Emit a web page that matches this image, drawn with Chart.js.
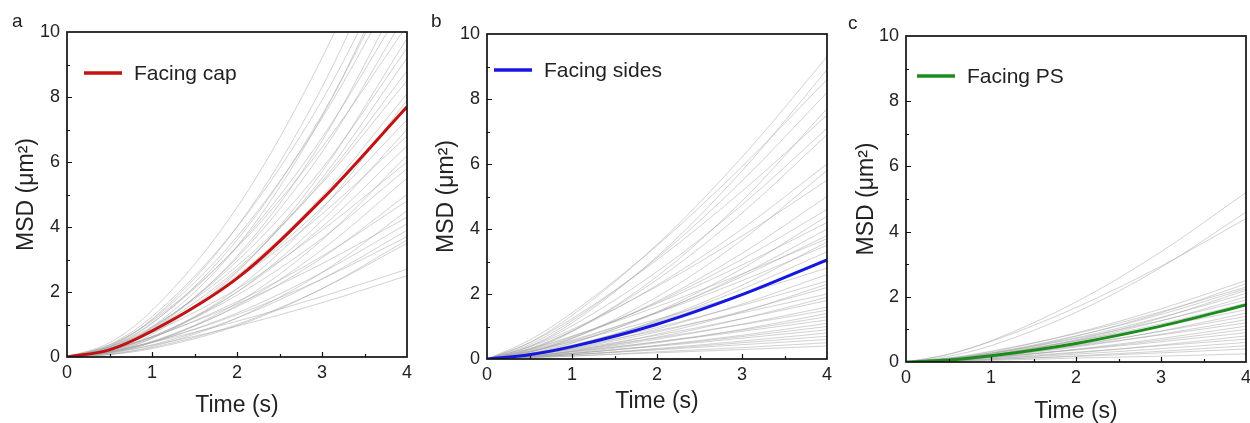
<!DOCTYPE html>
<html>
<head>
<meta charset="utf-8">
<script src="https://cdn.jsdelivr.net/npm/chart.js@4.4.1/dist/chart.umd.min.js"></script>
<style>
html, body { margin: 0; padding: 0; background: #fff; overflow: hidden; }
#wrap { position: relative; width: 1250px; height: 423px; overflow: hidden; }
.panel { position: absolute; top: 0; }
.tag { position: absolute; font: 19px "Liberation Sans", Arial, sans-serif; line-height: 19px; color: #222; }
</style>
</head>
<body>
<div id="wrap">
	<canvas id="panelA" class="panel" width="420" height="423" style="left:0px"></canvas>
	<canvas id="panelB" class="panel" width="420" height="423" style="left:420px"></canvas>
	<canvas id="panelC" class="panel" width="420" height="423" style="left:840px"></canvas>
	<div class="tag" style="left:12px;top:11px">a</div>
	<div class="tag" style="left:431px;top:11px">b</div>
	<div class="tag" style="left:848px;top:13px">c</div>
</div>
<script>
// sample times (s) shared by every curve
const time = [0, 0.5, 1, 2, 3, 4];

// a - facing cap
const capMean = [0, 0.22, 0.8, 2.42, 4.85, 7.7];
const capRuns = [
	[0, 0.33, 1.16, 4.0, 8.3, 14],
	[0, 0.38, 1.24, 4.0, 7.9, 13],
	[0, 0.30, 1.03, 3.6, 7.45, 12.5],
	[0, 0.35, 1.14, 3.7, 7.35, 12],
	[0, 0.22, 0.83, 3.1, 6.65, 11.5],
	[0, 0.32, 1.05, 3.4, 6.75, 11],
	[0, 0.25, 0.87, 3.05, 6.3, 10.6],
	[0, 0.37, 1.11, 3.37, 6.45, 10.2],
	[0, 0.19, 0.7, 2.6, 5.7, 9.8],
	[0, 0.28, 0.9, 2.95, 5.8, 9.5],
	[0, 0.22, 0.76, 2.64, 5.5, 9.2],
	[0, 0.26, 0.84, 2.7, 5.4, 8.8],
	[0, 0.31, 0.93, 2.8, 5.35, 8.5],
	[0, 0.23, 0.77, 2.5, 4.95, 8.1],
	[0, 0.15, 0.57, 2.1, 4.55, 7.9],
	[0, 0.26, 0.8, 2.4, 4.6, 7.3],
	[0, 0.17, 0.58, 2.0, 4.2, 7.0],
	[0, 0.3, 0.85, 2.4, 4.4, 6.8],
	[0, 0.19, 0.62, 2.0, 4.0, 6.5],
	[0, 0.12, 0.45, 1.66, 3.6, 6.2],
	[0, 0.26, 0.75, 2.1, 3.9, 6.0],
	[0, 0.21, 0.63, 1.9, 3.65, 5.8],
	[0, 0.13, 0.45, 1.58, 3.3, 5.5],
	[0, 0.15, 0.48, 1.55, 3.05, 5.0],
	[0, 0.21, 0.6, 1.7, 3.1, 4.8],
	[0, 0.09, 0.32, 1.2, 2.6, 4.5],
	[0, 0.23, 0.62, 1.63, 2.87, 4.3],
	[0, 0.15, 0.45, 1.35, 2.6, 4.1],
	[0, 0.11, 0.37, 1.2, 2.4, 3.9],
	[0, 0.16, 0.46, 1.3, 2.4, 3.7],
	[0, 0.07, 0.26, 0.96, 2.1, 3.6],
	[0, 0.08, 0.29, 1.0, 2.1, 3.5],
	[0, 0.18, 0.45, 1.1, 1.86, 2.7],
	[0, 0.14, 0.36, 0.95, 1.67, 2.5],
	[0, 0.44, 1.43, 4.6, 9.2, 15],
	[0, 0.24, 0.92, 3.4, 7.4, 12.8]
];

// b - facing sides
const sidesMean = [0, 0.13, 0.38, 1.07, 1.98, 3.05];
const sidesRuns = [
	[0, 0.5, 1.34, 3.52, 6.21, 9.3],
	[0, 0.39, 1.11, 3.15, 5.79, 8.9],
	[0, 0.58, 1.42, 3.49, 5.92, 8.6],
	[0, 0.44, 1.18, 3.11, 5.48, 8.2],
	[0, 0.28, 0.84, 2.54, 4.86, 7.7],
	[0, 0.5, 1.24, 3.05, 5.16, 7.5],
	[0, 0.38, 1.02, 2.69, 4.74, 7.1],
	[0, 0.3, 0.86, 2.44, 4.49, 6.9],
	[0, 0.32, 0.86, 2.27, 4.0, 6.0],
	[0, 0.21, 0.63, 1.91, 3.66, 5.8],
	[0, 0.37, 0.91, 2.23, 3.78, 5.5],
	[0, 0.22, 0.63, 1.77, 3.25, 5.0],
	[0, 0.25, 0.66, 1.74, 3.07, 4.6],
	[0, 0.16, 0.48, 1.45, 2.78, 4.4],
	[0, 0.28, 0.69, 1.71, 2.89, 4.2],
	[0, 0.18, 0.5, 1.42, 2.6, 4.0],
	[0, 0.21, 0.55, 1.44, 2.54, 3.8],
	[0, 0.31, 0.7, 1.61, 2.62, 3.7],
	[0, 0.13, 0.39, 1.19, 2.27, 3.6],
	[0, 0.23, 0.58, 1.42, 2.41, 3.5],
	[0, 0.15, 0.41, 1.17, 2.15, 3.3],
	[0, 0.16, 0.43, 1.14, 2.0, 3.0],
	[0, 0.23, 0.53, 1.22, 1.98, 2.8],
	[0, 0.11, 0.33, 0.92, 1.69, 2.6],
	[0, 0.16, 0.4, 0.97, 1.65, 2.4],
	[0, 0.08, 0.25, 0.76, 1.45, 2.3],
	[0, 0.12, 0.32, 0.83, 1.47, 2.2],
	[0, 0.17, 0.38, 0.87, 1.42, 2.0],
	[0, 0.08, 0.24, 0.67, 1.24, 1.9],
	[0, 0.12, 0.3, 0.73, 1.24, 1.8],
	[0, 0.09, 0.23, 0.61, 1.07, 1.6],
	[0, 0.12, 0.28, 0.65, 1.06, 1.5],
	[0, 0.06, 0.18, 0.5, 0.91, 1.4],
	[0, 0.09, 0.21, 0.53, 0.89, 1.3],
	[0, 0.1, 0.23, 0.52, 0.85, 1.2],
	[0, 0.06, 0.16, 0.42, 0.73, 1.1],
	[0, 0.07, 0.17, 0.41, 0.69, 1.0],
	[0, 0.07, 0.17, 0.39, 0.64, 0.9],
	[0, 0.05, 0.13, 0.32, 0.55, 0.8],
	[0, 0.06, 0.13, 0.3, 0.5, 0.7],
	[0, 0.06, 0.13, 0.28, 0.44, 0.6],
	[0, 0.04, 0.09, 0.22, 0.35, 0.5],
	[0, 0.04, 0.09, 0.19, 0.29, 0.4]
];

// c - facing PS
const psMean = [0, 0.06, 0.19, 0.57, 1.1, 1.75];
const psRuns = [
	[0, 0.23, 0.65, 1.84, 3.38, 5.2],
	[0, 0.17, 0.5, 1.52, 2.9, 4.6],
	[0, 0.24, 0.63, 1.67, 2.94, 4.4],
	[0, 0.11, 0.31, 0.89, 1.63, 2.5],
	[0, 0.09, 0.26, 0.79, 1.51, 2.4],
	[0, 0.12, 0.33, 0.87, 1.54, 2.3],
	[0, 0.1, 0.28, 0.8, 1.46, 2.25],
	[0, 0.06, 0.21, 0.68, 1.35, 2.2],
	[0, 0.09, 0.26, 0.74, 1.37, 2.1],
	[0, 0.07, 0.22, 0.66, 1.26, 2.0],
	[0, 0.1, 0.27, 0.72, 1.27, 1.9],
	[0, 0.08, 0.23, 0.64, 1.17, 1.8],
	[0, 0.11, 0.26, 0.65, 1.1, 1.6],
	[0, 0.05, 0.16, 0.5, 0.95, 1.5],
	[0, 0.08, 0.2, 0.53, 0.94, 1.4],
	[0, 0.06, 0.16, 0.46, 0.85, 1.3],
	[0, 0.08, 0.2, 0.49, 0.83, 1.2],
	[0, 0.05, 0.14, 0.39, 0.72, 1.1],
	[0, 0.05, 0.14, 0.38, 0.67, 1.0],
	[0, 0.06, 0.15, 0.37, 0.62, 0.9],
	[0, 0.04, 0.1, 0.28, 0.52, 0.8],
	[0, 0.06, 0.13, 0.3, 0.5, 0.7],
	[0, 0.04, 0.1, 0.24, 0.41, 0.6],
	[0, 0.03, 0.07, 0.19, 0.33, 0.5],
	[0, 0.03, 0.08, 0.17, 0.28, 0.4],
	[0, 0.03, 0.05, 0.12, 0.18, 0.25]
];

const FONT = '"Liberation Sans", Arial, sans-serif';
const INK = '#222';
Chart.defaults.font.family = FONT;

function toPoints(values) {
	return time.map((t, i) => ({x: t, y: values[i]}));
}

// frame round the plot, ticks pointing inwards
const frame = {
	id: 'frame',
	afterDatasetsDraw(chart) {
		const {ctx, chartArea: a, scales: {x, y}} = chart;
		ctx.save();
		ctx.strokeStyle = '#111';
		ctx.lineWidth = 1.2;
		ctx.beginPath();
		for (let v = 0.5; v < 4; v += 0.5) {
			const px = Math.round(x.getPixelForValue(v)) + 0.5;
			const len = v % 1 ? 3 : 5;
			ctx.moveTo(px, a.bottom);
			ctx.lineTo(px, a.bottom - len);
		}
		for (let v = 1; v < 10; v++) {
			const py = Math.round(y.getPixelForValue(v)) + 0.5;
			const len = v % 2 ? 3 : 5;
			ctx.moveTo(a.left, py);
			ctx.lineTo(a.left + len, py);
		}
		ctx.stroke();
		ctx.lineWidth = 1.7;
		ctx.strokeRect(a.left, a.top, a.right - a.left, a.bottom - a.top);
		ctx.restore();
	}
};

// legend sitting inside the plot, only for the mean curve
const innerLegend = {
	id: 'innerLegend',
	afterDraw(chart, args, opts) {
		const {ctx, chartArea: a} = chart;
		const ds = chart.data.datasets[0];
		const x0 = a.left + opts.dx;
		const y0 = a.top + opts.dy;
		ctx.save();
		ctx.strokeStyle = ds.borderColor;
		ctx.lineWidth = 3.5;
		ctx.beginPath();
		ctx.moveTo(x0, y0);
		ctx.lineTo(x0 + 38, y0);
		ctx.stroke();
		ctx.fillStyle = INK;
		ctx.font = '21px ' + FONT;
		ctx.textBaseline = 'middle';
		ctx.fillText(ds.label, x0 + 50, y0 + 1);
		ctx.restore();
	}
};

function makePanel(id, mean, runs, color, label, box) {
	const datasets = [{
		label: label,
		data: toPoints(mean),
		borderColor: color,
		borderWidth: 3,
		order: 0
	}];
	runs.forEach(r => datasets.push({
		label: '',
		data: toPoints(r),
		borderColor: 'rgba(165, 165, 165, 0.5)',
		borderWidth: 1,
		order: 1
	}));

	return new Chart(document.getElementById(id), {
		type: 'line',
		data: {datasets: datasets},
		plugins: [frame, innerLegend],
		options: {
			responsive: false,
			animation: false,
			devicePixelRatio: 1,
			elements: {point: {radius: 0}, line: {cubicInterpolationMode: 'monotone'}},
			layout: {padding: {left: 0, top: box.top, right: box.right, bottom: 0}},
			plugins: {
				legend: {display: false},
				tooltip: {enabled: false},
				innerLegend: {dx: box.legX, dy: box.legY}
			},
			scales: {
				x: {
					type: 'linear', min: 0, max: 4,
					grid: {display: false, drawTicks: false}, border: {display: false},
					ticks: {stepSize: 1, padding: 5, color: INK, font: {size: 18}},
					title: {display: true, text: 'Time (s)', color: INK, font: {size: 23}, padding: {top: 0, bottom: box.xTitle}},
					afterFit(s) { s.height = box.xH; }
				},
				y: {
					type: 'linear', min: 0, max: 10,
					grid: {display: false, drawTicks: false}, border: {display: false},
					ticks: {stepSize: 2, padding: 7, color: INK, font: {size: 18}},
					title: {display: true, text: 'MSD (μm²)', color: INK, font: {size: 23}, padding: {top: 13, bottom: 0}},
					afterFit(s) { s.width = box.yW; }
				}
			}
		}
	});
}

makePanel('panelA', capMean, capRuns, 'rgb(195, 18, 18)', 'Facing cap',
	{top: 32, right: 13, yW: 67, xH: 66, xTitle: 4, legX: 17, legY: 41});
makePanel('panelB', sidesMean, sidesRuns, 'rgb(22, 22, 225)', 'Facing sides',
	{top: 34, right: 13, yW: 67, xH: 64, xTitle: 8, legX: 7, legY: 36});
makePanel('panelC', psMean, psRuns, 'rgb(28, 140, 28)', 'Facing PS',
	{top: 36, right: 14, yW: 66, xH: 61, xTitle: -2, legX: 11, legY: 40});
</script>
</body>
</html>
